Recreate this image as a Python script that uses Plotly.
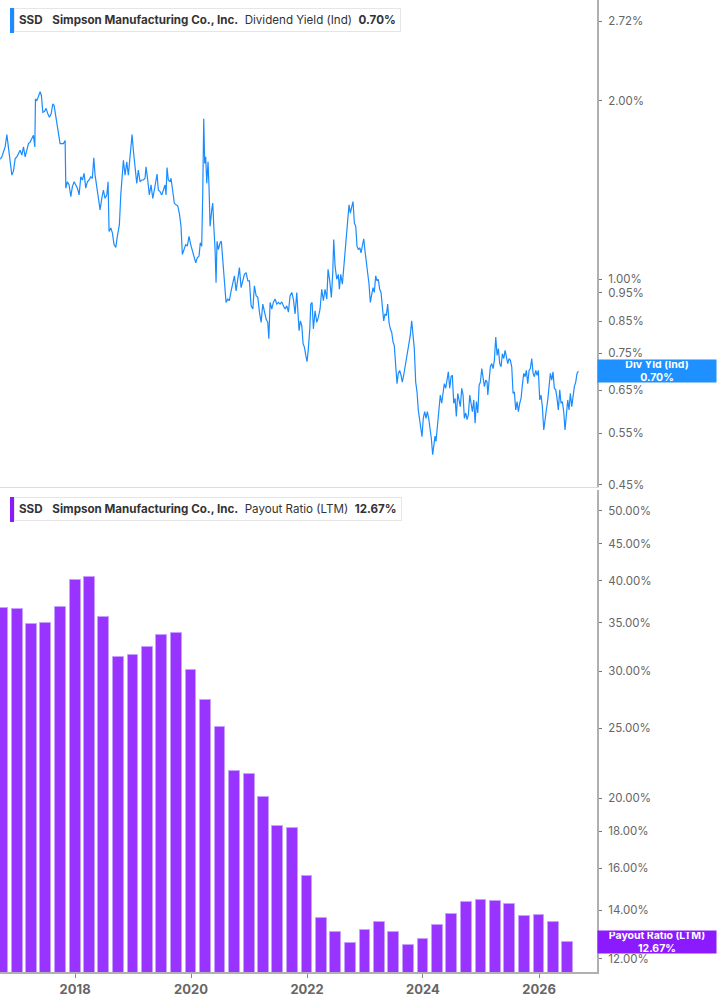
import plotly.graph_objects as go
import pandas as pd
import numpy as np

# dividend yield (ind), %, time as decimal years
yld_year = [
    2016.707, 2016.736, 2016.764, 2016.793, 2016.823, 2016.840, 2016.862, 2016.879, 2016.909, 2016.936,
    2016.966, 2016.995, 2017.023, 2017.052, 2017.081, 2017.109, 2017.138, 2017.167, 2017.195, 2017.224,
    2017.254, 2017.281, 2017.305, 2017.316, 2017.340, 2017.367, 2017.397, 2017.419, 2017.443, 2017.471,
    2017.500, 2017.529, 2017.557, 2017.586, 2017.616, 2017.638, 2017.667, 2017.695, 2017.724, 2017.741,
    2017.771, 2017.798, 2017.828, 2017.840, 2017.867, 2017.897, 2017.926, 2017.953, 2017.983, 2018.012,
    2018.040, 2018.069, 2018.098, 2018.126, 2018.155, 2018.184, 2018.212, 2018.241, 2018.271, 2018.298,
    2018.322, 2018.345, 2018.374, 2018.402, 2018.431, 2018.460, 2018.488, 2018.517, 2018.547, 2018.569,
    2018.586, 2018.616, 2018.643, 2018.672, 2018.702, 2018.729, 2018.764, 2018.788, 2018.816, 2018.833,
    2018.862, 2018.891, 2018.919, 2018.948, 2018.983, 2019.005, 2019.034, 2019.064, 2019.091, 2019.121,
    2019.150, 2019.178, 2019.207,
    2019.224, 2019.253, 2019.281, 2019.310, 2019.340, 2019.367, 2019.397, 2019.414, 2019.436, 2019.466,
    2019.495, 2019.522, 2019.552, 2019.569, 2019.586, 2019.609, 2019.638, 2019.655, 2019.684, 2019.712,
    2019.741, 2019.771, 2019.798, 2019.828, 2019.850, 2019.879, 2019.909, 2019.936, 2019.966, 2019.995,
    2020.022, 2020.052, 2020.081, 2020.109, 2020.138, 2020.160, 2020.184, 2020.202, 2020.219, 2020.236,
    2020.253, 2020.271, 2020.293, 2020.310, 2020.328, 2020.357, 2020.374, 2020.391, 2020.414, 2020.431,
    2020.448, 2020.471, 2020.500, 2020.522, 2020.547, 2020.574, 2020.603, 2020.633, 2020.660, 2020.690,
    2020.719, 2020.747, 2020.776, 2020.805, 2020.833, 2020.862, 2020.891, 2020.919, 2020.948, 2020.978,
    2021.005, 2021.034, 2021.064, 2021.091, 2021.121, 2021.150, 2021.178, 2021.207, 2021.236, 2021.264,
    2021.293, 2021.322, 2021.340, 2021.362, 2021.391, 2021.419, 2021.448, 2021.478, 2021.505, 2021.534,
    2021.564, 2021.591, 2021.621, 2021.650, 2021.678, 2021.707, 2021.736, 2021.764,
    2021.793, 2021.822, 2021.840, 2021.862, 2021.884, 2021.909, 2021.931, 2021.953, 2021.978, 2022.000,
    2022.022, 2022.047, 2022.064, 2022.086, 2022.109, 2022.138, 2022.167, 2022.195, 2022.224, 2022.253,
    2022.281, 2022.310, 2022.340, 2022.362, 2022.391, 2022.419, 2022.443, 2022.460, 2022.483, 2022.512,
    2022.540, 2022.557, 2022.581, 2022.609, 2022.633, 2022.655, 2022.678, 2022.702, 2022.724, 2022.747,
    2022.771, 2022.793, 2022.816, 2022.840, 2022.862, 2022.884, 2022.909, 2022.931, 2022.953, 2022.978,
    2023.000, 2023.022, 2023.047, 2023.069, 2023.091, 2023.116, 2023.138, 2023.160, 2023.184, 2023.207,
    2023.229, 2023.253, 2023.276, 2023.298, 2023.322, 2023.345, 2023.367, 2023.391, 2023.414, 2023.436,
    2023.460, 2023.483, 2023.505, 2023.529, 2023.552, 2023.574, 2023.598, 2023.621, 2023.643, 2023.667,
    2023.690, 2023.712, 2023.736, 2023.759, 2023.781, 2023.805, 2023.828, 2023.850, 2023.874, 2023.897,
    2023.919, 2023.943, 2023.966, 2023.983, 2024.005, 2024.029, 2024.052, 2024.074, 2024.098, 2024.121,
    2024.143, 2024.167, 2024.190,
    2024.207, 2024.224, 2024.241, 2024.264, 2024.281, 2024.298, 2024.322, 2024.345, 2024.367, 2024.391,
    2024.414, 2024.436, 2024.460, 2024.483, 2024.505, 2024.529, 2024.552, 2024.574, 2024.598, 2024.621,
    2024.643, 2024.667, 2024.690, 2024.712, 2024.736, 2024.759, 2024.781, 2024.805, 2024.828, 2024.850,
    2024.874, 2024.897, 2024.919, 2024.943, 2024.966, 2024.988, 2025.012, 2025.034, 2025.057, 2025.081,
    2025.103, 2025.116, 2025.138, 2025.160, 2025.184, 2025.207, 2025.229, 2025.253, 2025.276, 2025.298,
    2025.322, 2025.345, 2025.367, 2025.391, 2025.414, 2025.436, 2025.460, 2025.483, 2025.505, 2025.529,
    2025.552, 2025.574, 2025.598, 2025.621, 2025.643, 2025.667, 2025.690, 2025.712, 2025.736, 2025.759,
    2025.781, 2025.805, 2025.828, 2025.850, 2025.874, 2025.897, 2025.919, 2025.943, 2025.966, 2025.988,
    2026.012, 2026.034, 2026.057, 2026.081, 2026.103, 2026.126, 2026.150, 2026.172, 2026.195, 2026.219,
    2026.241, 2026.264, 2026.288, 2026.310, 2026.333, 2026.357, 2026.379, 2026.402, 2026.426, 2026.448,
    2026.471, 2026.495, 2026.517, 2026.540, 2026.564, 2026.586, 2026.609, 2026.633, 2026.655, 2026.678,
]
yld_pct = [
    1.593, 1.608, 1.639, 1.671, 1.753, 1.693, 1.639, 1.557, 1.498, 1.521,
    1.597, 1.608, 1.629, 1.650, 1.619, 1.671, 1.608, 1.661, 1.693, 1.703,
    1.725, 1.748, 1.671, 2.013, 2.000, 2.039, 2.070, 2.039, 1.912, 1.917,
    1.941, 1.900, 1.876, 1.900, 1.975, 1.962, 1.888, 1.804, 1.760, 1.693,
    1.693, 1.693, 1.714, 1.424, 1.460, 1.442, 1.378, 1.433, 1.460, 1.442,
    1.424, 1.387, 1.488, 1.470, 1.508, 1.424, 1.460, 1.470, 1.488, 1.479,
    1.602, 1.498, 1.433, 1.387, 1.309, 1.369, 1.414, 1.369, 1.387, 1.460,
    1.204, 1.220, 1.197, 1.144, 1.132, 1.181, 1.236, 1.387, 1.498, 1.587,
    1.498, 1.577, 1.498, 1.629, 1.753, 1.650, 1.557, 1.451, 1.527, 1.460,
    1.470, 1.470, 1.480,
    1.547, 1.470, 1.387, 1.442, 1.369, 1.414, 1.470, 1.504, 1.414, 1.405,
    1.387, 1.414, 1.442, 1.387, 1.543, 1.470, 1.460, 1.480, 1.396, 1.344,
    1.335, 1.330, 1.293, 1.228, 1.101, 1.122, 1.144, 1.137, 1.181, 1.144,
    1.122, 1.094, 1.066, 1.087, 1.094, 1.152, 1.137, 1.396, 1.864, 1.567,
    1.608, 1.451, 1.577, 1.433, 1.228, 1.309, 1.344, 1.236, 1.122, 0.987,
    1.159, 1.122, 1.152, 1.159, 1.066, 0.975, 0.914, 0.926, 0.920, 0.956,
    0.987, 1.013, 0.956, 1.000, 1.046, 0.968, 1.000, 1.019, 1.026, 0.994,
    0.994, 0.902, 0.891, 0.975, 0.938, 0.932, 0.880, 0.846, 0.908, 0.880,
    0.857, 0.846, 0.794, 0.914, 0.891, 0.914, 0.926, 0.908, 0.914, 0.908,
    0.916, 0.902, 0.891, 0.902, 0.880, 0.938, 0.950, 0.926,
    0.874, 0.950, 0.891, 0.819, 0.851, 0.835, 0.779, 0.769, 0.744, 0.726,
    0.764, 0.825, 0.908, 0.914, 0.825, 0.885, 0.846, 0.863, 0.891, 0.962,
    0.920, 0.962, 0.926, 1.039, 0.994, 0.932, 1.026, 1.167, 1.052, 1.000,
    1.019, 0.962, 1.019, 0.981, 1.046, 1.101, 1.159, 1.260, 1.335, 1.293,
    1.326, 1.352, 1.244, 1.228, 1.137, 1.122, 1.130, 1.108, 1.137, 1.170,
    1.115, 1.073, 1.039, 0.981, 0.914, 0.950, 0.968, 0.950, 1.013, 0.994,
    1.000, 0.962, 0.950, 0.902, 0.851, 0.874, 0.868, 0.908, 0.846, 0.825,
    0.814, 0.784, 0.773, 0.716, 0.667, 0.694, 0.702, 0.689, 0.671, 0.689,
    0.712, 0.726, 0.764, 0.784, 0.804, 0.851, 0.804, 0.764, 0.671, 0.646,
    0.602, 0.576, 0.561, 0.543, 0.583, 0.598, 0.583, 0.598, 0.583, 0.565,
    0.540, 0.506, 0.533,
    0.544, 0.533, 0.557, 0.587, 0.610, 0.638, 0.618, 0.642, 0.667, 0.655,
    0.685, 0.698, 0.655, 0.685, 0.689, 0.618, 0.630, 0.587, 0.642, 0.626,
    0.610, 0.655, 0.638, 0.583, 0.595, 0.580, 0.591, 0.638, 0.618, 0.598,
    0.626, 0.572, 0.622, 0.595, 0.663, 0.671, 0.707, 0.680, 0.659, 0.676,
    0.671, 0.638, 0.685, 0.712, 0.721, 0.707, 0.730, 0.799, 0.744, 0.764,
    0.721, 0.712, 0.749, 0.735, 0.759, 0.740, 0.721, 0.735, 0.730, 0.712,
    0.642, 0.646, 0.602, 0.622, 0.598, 0.618, 0.630, 0.663, 0.694, 0.685,
    0.702, 0.667, 0.702, 0.707, 0.735, 0.694, 0.685, 0.702, 0.689, 0.702,
    0.626, 0.638, 0.610, 0.557, 0.587, 0.602, 0.626, 0.651, 0.694, 0.676,
    0.698, 0.655, 0.651, 0.630, 0.602, 0.651, 0.618, 0.622, 0.598, 0.557,
    0.595, 0.626, 0.602, 0.642, 0.610, 0.638, 0.659, 0.671, 0.694, 0.700,
]

# payout ratio (LTM), %, quarterly
payout_dates = [
    "2016-10-01", "2017-01-01", "2017-04-01", "2017-07-01", "2017-10-01",
    "2018-01-01", "2018-04-01", "2018-07-01", "2018-10-01", "2019-01-01",
    "2019-04-01", "2019-07-01", "2019-10-01", "2020-01-01", "2020-04-01",
    "2020-07-01", "2020-10-01", "2021-01-01", "2021-04-01", "2021-07-01",
    "2021-10-01", "2022-01-01", "2022-04-01", "2022-07-01", "2022-10-01",
    "2023-01-01", "2023-04-01", "2023-07-01", "2023-10-01", "2024-01-01",
    "2024-04-01", "2024-07-01", "2024-10-01", "2025-01-01", "2025-04-01",
    "2025-07-01", "2025-10-01", "2026-01-01", "2026-04-01", "2026-07-01",
]
payout_pct = [
    36.70, 36.55, 34.81, 34.96, 36.78, 40.05, 40.43, 35.63, 31.35, 31.58,
    32.37, 33.65, 33.87, 30.07, 27.36, 25.10, 21.80, 21.61, 20.08, 18.31,
    18.18, 15.63, 13.67, 13.06, 12.60, 13.14, 13.50, 13.06, 12.54, 12.77,
    13.36, 13.85, 14.38, 14.45, 14.43, 14.28, 13.76, 13.80, 13.49, 12.67,
]

yld_ticks = [2.72, 2.00, 1.00, 0.95, 0.85, 0.75, 0.65, 0.55, 0.45]
payout_ticks = [50, 45, 40, 35, 30, 25, 20, 18, 16, 14, 12]


def to_date(t):
    y = int(t)
    a = pd.Timestamp(year=y, month=1, day=1)
    b = pd.Timestamp(year=y + 1, month=1, day=1)
    return a + (b - a) * (t - y)


yld_dates = [to_date(t) for t in yld_year]

BLUE = "#1a8cff"
PURPLE = "#9933ff"
FONT = "Inter"

W, H = 717, 1005
ML, MR, MT, MB = 0, 120, 0, 33
PH = H - MT - MB

fig = go.Figure()

fig.add_trace(go.Scatter(
    x=yld_dates, y=yld_pct, mode="lines",
    line=dict(color=BLUE, width=1.2),
    xaxis="x", yaxis="y", showlegend=False,
))

fig.add_trace(go.Bar(
    x=payout_dates, y=payout_pct,
    width=68 * 24 * 3600 * 1000,
    marker=dict(color=PURPLE, line=dict(color="#c7a0ff", width=1)),
    xaxis="x2", yaxis="y2", showlegend=False,
))

xr = ["2016-09-15", "2027-01-01"]
top_dom = [1 - 487 / PH, 1]
bot_dom = [0, 1 - 490 / PH]

fig.update_layout(
    width=W, height=H,
    margin=dict(l=ML, r=MR, t=MT, b=MB),
    paper_bgcolor="white", plot_bgcolor="white",
    font=dict(family=FONT, color="#555"),
    bargap=0,
    xaxis=dict(
        domain=[0, 1], anchor="y", range=xr, type="date",
        showticklabels=False, showgrid=False, zeroline=False,
        showline=True, linecolor="#dcdcdc", linewidth=1, ticks="",
    ),
    yaxis=dict(
        domain=top_dom, anchor="x", type="log", side="right",
        range=[np.log10(0.4465), np.log10(2.956)],
        tickvals=yld_ticks, ticktext=["%.2f%%" % v for v in yld_ticks],
        showgrid=False, zeroline=False,
        showline=True, linecolor="#b0b0b0", linewidth=2,
        ticks="outside", ticklen=3, tickcolor="#777",
        tickfont=dict(size=11.5, color="#666"), ticklabelstandoff=4,
    ),
    xaxis2=dict(
        domain=[0, 1], anchor="y2", range=xr, type="date",
        tick0="2018-01-01", dtick="M24", tickformat="%Y",
        showgrid=False, zeroline=False,
        showline=True, linecolor="#b0b0b0", linewidth=2,
        ticks="outside", ticklen=4, tickcolor="#888",
        tickfont=dict(size=13, color="#666", weight="bold"),
    ),
    yaxis2=dict(
        domain=bot_dom, anchor="x2", type="log", side="right",
        range=[np.log10(11.50), np.log10(53.4)],
        tickvals=payout_ticks, ticktext=["%.2f%%" % v for v in payout_ticks],
        showgrid=False, zeroline=False,
        showline=True, linecolor="#b0b0b0", linewidth=2,
        ticks="outside", ticklen=3, tickcolor="#777",
        tickfont=dict(size=11.5, color="#666"), ticklabelstandoff=4,
    ),
)


def py(px):
    # pixel from top of figure -> paper y
    return 1 - (px - MT) / PH


def px_x(px):
    return px / (W - ML - MR)


def header(top, color, label, value):
    fig.add_annotation(
        xref="paper", yref="paper", x=px_x(14), y=py(top),
        xanchor="left", yanchor="top", showarrow=False, align="left",
        text=("<b>SSD</b>&nbsp;&nbsp; <b>Simpson Manufacturing Co., Inc.</b>"
              "&nbsp; %s&nbsp; <b>%s</b>" % (label, value)),
        font=dict(size=11.6, color="#333", family=FONT),
        bgcolor="white", bordercolor="#e6e6e6", borderwidth=1, borderpad=4,
    )
    fig.add_shape(
        type="rect", xref="paper", yref="paper",
        x0=px_x(10), x1=px_x(14), y0=py(top + 25), y1=py(top),
        fillcolor=color, line=dict(width=0), layer="above",
    )


header(8, BLUE, "Dividend Yield (Ind)", "0.70%")
header(497, "#8c1aff", "Payout Ratio (LTM)", "12.67%")

# last value tags on the right axis
fig.add_annotation(
    xref="paper", yref="y", x=1, y=np.log10(yld_pct[-1]),
    xanchor="left", yanchor="middle", showarrow=False,
    text="<b>Div Yld (Ind)<br>0.70%</b>", align="center",
    font=dict(size=10.5, color="white", family=FONT),
    bgcolor="#1e90ff", width=116, height=20, borderpad=1,
)
fig.add_annotation(
    xref="paper", yref="y2", x=1, y=np.log10(payout_pct[-1]),
    xanchor="left", yanchor="middle", showarrow=False,
    text="<b>Payout Ratio (LTM)<br>12.67%</b>", align="center",
    font=dict(size=10.5, color="white", family=FONT),
    bgcolor="#8c1aff", width=116, height=20, borderpad=1,
)

fig.write_html("out.html", config={"displayModeBar": False},
               post_script="document.body.style.margin='0px';")
